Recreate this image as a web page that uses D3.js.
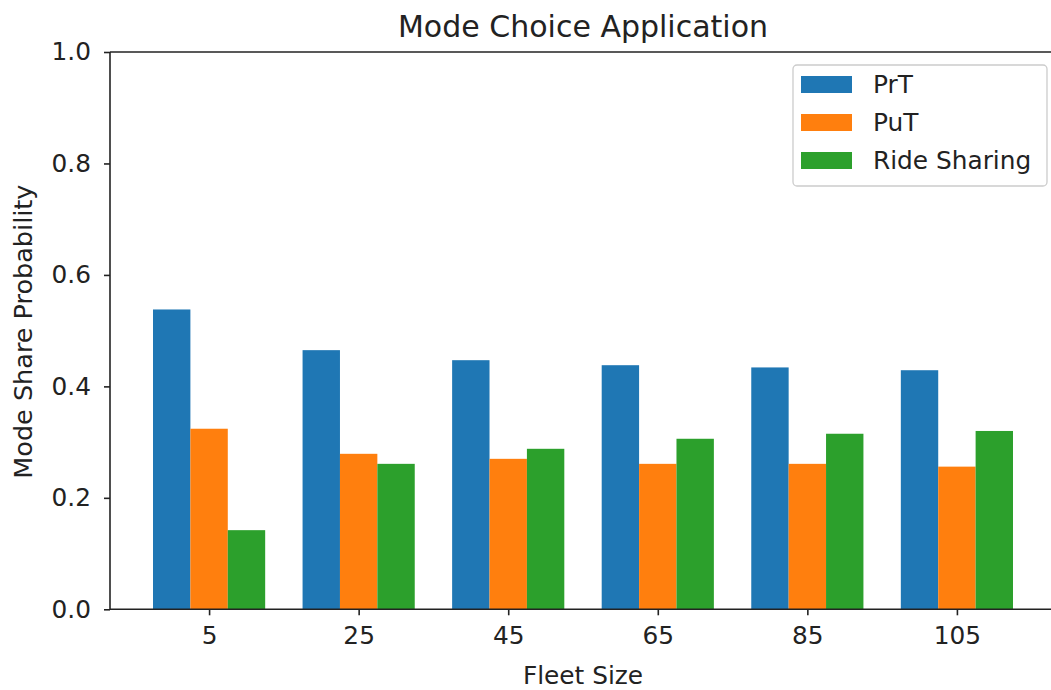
<!DOCTYPE html>
<html>
<head>
<meta charset="utf-8">
<script src="https://cdn.jsdelivr.net/npm/d3@7"></script>
<style>
  html, body { margin: 0; padding: 0; background: #fff; overflow: hidden; }
  svg { display: block; font-family: "DejaVu Sans", sans-serif; }
</style>
</head>
<body>
<svg id="chart" width="1051" height="690"></svg>
<script>
// Fleet sizes and mode share probabilities per mode
const fleetSizes = [5, 25, 45, 65, 85, 105];
const seriesNames = ["PrT", "PuT", "Ride Sharing"];
const prtShare = [0.538, 0.465, 0.447, 0.438, 0.434, 0.429];
const putShare = [0.324, 0.279, 0.270, 0.261, 0.261, 0.256];
const rideShare = [0.142, 0.261, 0.288, 0.306, 0.315, 0.320];
const yTicks = [0.0, 0.2, 0.4, 0.6, 0.8, 1.0];
const colors = ["#1f77b4", "#ff7f0e", "#2ca02c"];

const series = [prtShare, putShare, rideShare];
const barWidth = 0.25;

const svg = d3.select("#chart");
const plotLeft = 110, plotRight = 1056, plotTop = 52, plotBottom = 609.3;

const x = d3.scaleLinear().domain([-0.6625, 5.6625]).range([plotLeft, plotRight]);
const y = d3.scaleLinear().domain([0, 1]).range([plotBottom, plotTop]);

// Bars: three per fleet size, side by side around each tick
const groups = svg.append("g").attr("class", "bars");
series.forEach((vals, s) => {
  groups.append("g")
    .attr("fill", colors[s])
    .selectAll("rect")
    .data(vals)
    .join("rect")
    .attr("x", (d, i) => x(i + (s - 1) * barWidth - barWidth / 2))
    .attr("width", x(barWidth) - x(0))
    .attr("y", d => y(d))
    .attr("height", d => y(0) - y(d));
});

const tickFont = 24.8;

// Y axis
const yAxis = svg.append("g")
  .attr("transform", `translate(${plotLeft},0)`)
  .call(d3.axisLeft(y).tickValues(yTicks).tickFormat(d3.format(".1f")).tickSize(6).tickPadding(13));
// X axis
const xAxis = svg.append("g")
  .attr("transform", `translate(0,${plotBottom})`)
  .call(d3.axisBottom(x).tickValues(d3.range(fleetSizes.length)).tickFormat(i => fleetSizes[i]).tickSize(6).tickPadding(11));

[yAxis, xAxis].forEach(ax => {
  ax.select(".domain").remove();
  ax.selectAll(".tick line").attr("stroke", "#222").attr("stroke-width", 1.6);
  ax.selectAll(".tick text")
    .attr("font-family", "DejaVu Sans")
    .attr("font-size", tickFont)
    .attr("fill", "#222");
});

// Spines
const spine = svg.append("g").attr("stroke", "#222").attr("stroke-width", 1.6).attr("fill", "none");
spine.append("line").attr("x1", plotLeft).attr("x2", plotRight).attr("y1", plotTop).attr("y2", plotTop);
spine.append("line").attr("x1", plotLeft).attr("x2", plotRight).attr("y1", plotBottom).attr("y2", plotBottom);
spine.append("line").attr("x1", plotLeft).attr("x2", plotLeft).attr("y1", plotTop).attr("y2", plotBottom);
spine.append("line").attr("x1", plotRight).attr("x2", plotRight).attr("y1", plotTop).attr("y2", plotBottom);

// Title and axis labels
svg.append("text")
  .attr("x", (plotLeft + plotRight) / 2).attr("y", 37)
  .attr("text-anchor", "middle")
  .attr("font-size", 30).attr("fill", "#222")
  .text("Mode Choice Application");

svg.append("text")
  .attr("x", (plotLeft + plotRight) / 2).attr("y", 684)
  .attr("text-anchor", "middle")
  .attr("font-size", tickFont).attr("fill", "#222")
  .text("Fleet Size");

svg.append("text")
  .attr("transform", `translate(32,${(plotTop + plotBottom) / 2 + 1}) rotate(-90)`)
  .attr("text-anchor", "middle")
  .attr("font-size", 25.5).attr("fill", "#222")
  .text("Mode Share Probability");

// Legend
const legend = svg.append("g").attr("transform", "translate(793,65)");
legend.append("rect")
  .attr("width", 254).attr("height", 121).attr("rx", 4)
  .attr("fill", "#fff").attr("fill-opacity", 0.8)
  .attr("stroke", "#ccc").attr("stroke-width", 1.3);
seriesNames.forEach((name, i) => {
  const row = legend.append("g").attr("transform", `translate(0,${11 + i * 38})`);
  row.append("rect").attr("x", 8).attr("width", 51).attr("height", 17).attr("fill", colors[i]);
  row.append("text").attr("x", 80).attr("y", 17)
    .attr("font-size", tickFont).attr("fill", "#222").text(name);
});
</script>
</body>
</html>
